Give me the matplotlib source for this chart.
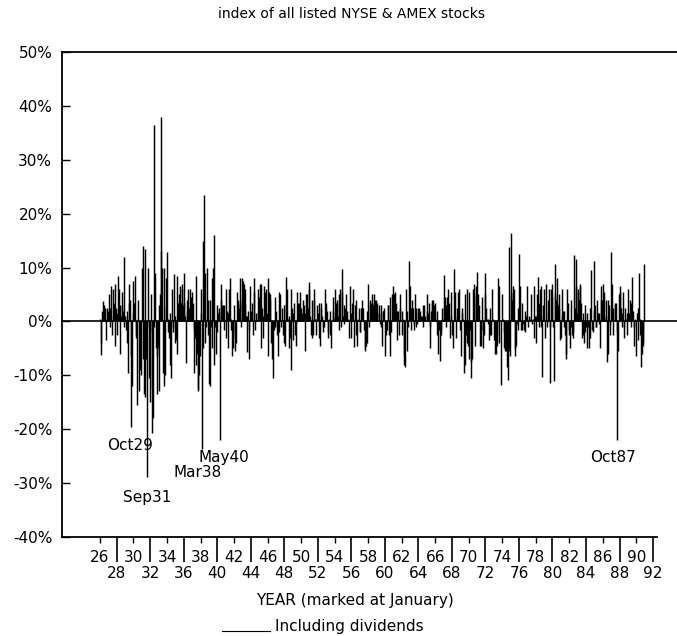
import matplotlib
matplotlib.use("Agg")
import matplotlib.pyplot as plt
from matplotlib.lines import Line2D
import numpy as np

# %% Data: monthly returns (%), Jan 1926 - Dec 1990

ret_1920s = [
    0.5, -4.0, -6.3, 2.0, 1.0, 3.8, 3.0, 2.5, 0.5, -3.5, 2.5, 2.0,
    1.0, 5.0, -1.0, 2.5, 6.5, -2.5, 6.0, 1.0, 3.5, -4.5, 7.0, 2.5,
    1.5, -2.5, 8.5, 6.0, 3.0, -6.0, 1.0, 5.5, 3.0, 2.0, 12.0, -1.0,
    1.0, -1.5, -4.0, 2.0, -9.5, 7.0, 3.5, 4.0, -6.5, -19.6, -12.0, 1.5,
]

ret_1930s = [
    7.5, 3.5, 8.5, -3.0, -2.5, -15.5, 4.0, 0.5, -13.0, -9.0, -2.0, -10.0,
    10.0, 14.0, -7.0, -13.5, -14.0, 13.5, -7.0, -1.0, -28.8, 10.0, -10.5, -15.0,
    -2.0, 5.0, -12.5, -20.7, -18.0, -1.0, 36.5, 9.0, -5.0, -13.5, -6.5, -5.0,
    3.0, -13.0, 5.0, 38.0, 13.0, 10.0, -9.5, 10.0, -12.0, -10.0, 8.0, 2.5,
    12.8, -2.0, 0.5, -3.0, -8.0, 1.5, -10.5, 6.0, -1.0, -2.0, 8.8, 1.0,
    -4.0, -3.5, -6.0, 8.5, 3.5, 5.0, 6.5, 3.0, 3.5, 7.0, 6.0, 3.0,
    9.0, 3.5, 1.0, -7.7, 4.0, 2.0, 6.0, 1.0, 2.5, 6.0, 4.5, 1.0,
    5.5, 3.5, -1.5, -9.5, -3.0, -8.0, 8.5, -6.0, -13.0, -12.5, -10.0, -6.5,
    1.5, 6.0, -23.6, 15.0, -5.0, 23.5, 9.0, -4.0, -1.0, 10.0, -2.5, 4.0,
    -11.7, 4.0, -12.0, -1.0, 8.0, -5.0, 10.0, -8.0, 16.0, -1.0, -6.0, 3.0,
]

ret_1940s = [
    -2.0, 1.5, 2.5, 2.0, -22.0, 7.0, 4.0, 3.0, 3.0, 3.0, -1.5, 0.0,
    6.0, -3.0, 2.0, -5.0, 1.5, 6.0, 8.0, 0.5, -1.5, -6.5, -3.0, -5.0,
    3.0, -2.0, -5.5, -4.0, 5.5, 3.0, 4.0, 2.5, 3.5, 8.0, -1.0, 4.0,
    8.0, 7.5, 7.0, 3.0, 6.0, 1.0, -5.7, 1.0, 2.0, -1.5, -7.0, 6.5,
    2.0, 0.5, 3.5, -2.5, 5.5, 8.0, -1.5, 1.5, 0.0, 0.0, 1.5, 6.0,
    4.5, 7.0, -5.0, 7.0, 2.5, 1.0, -3.0, 6.5, 5.5, 4.5, 6.0, 1.5,
    8.0, -6.5, 5.5, 4.0, 5.0, -4.0, -3.0, -7.0, -10.5, -1.5, -1.0, 4.5,
    2.0, -1.0, -2.5, -6.5, -2.0, 5.5, 5.0, -1.0, 0.5, 2.5, -2.5, 3.0,
    -4.0, -4.5, 8.3, 3.5, 6.0, 0.5, -5.0, 1.0, -3.0, 6.0, -9.0, 2.5,
    1.5, -3.5, 3.5, -2.5, -4.5, -0.5, 5.5, 2.5, 3.5, 3.5, 2.0, 5.5,
]

ret_1950s = [
    2.5, 1.5, 0.5, 4.0, 3.0, -5.5, 1.5, 5.0, 5.0, 0.0, 2.5, 6.0,
    7.3, 1.0, -2.5, 4.0, -3.0, -2.5, 6.0, 4.0, 0.5, -2.5, 0.5, 3.0,
    1.5, -3.0, 3.5, -4.5, 2.5, 3.5, 1.0, -1.0, -2.0, -1.0, 6.0, 3.5,
    0.5, 2.0, -2.0, -3.0, 0.5, -2.5, 2.0, -5.0, 0.0, 4.5, 2.0, 0.5,
    6.0, 1.0, 3.5, 4.0, 3.5, 1.0, 5.0, -1.5, 6.0, -1.0, 9.8, 5.5,
    1.0, 3.0, -0.5, 2.5, 1.0, 5.0, 2.0, 0.5, 0.0, -3.0, 6.5, 1.5,
    -3.0, 3.5, 6.0, 0.5, -4.8, 3.0, 4.0, -2.5, -4.5, 0.5, 0.0, 2.5,
    -2.0, -2.0, 2.5, 4.0, 2.5, 0.5, -1.5, -5.0, -5.4, -4.5, 2.0, -4.0,
    7.0, -1.0, 4.0, 3.0, 3.5, 3.5, 5.0, 3.0, 5.0, 3.5, 4.0, 4.0,
    3.5, 1.5, 0.0, 3.0, 1.5, -0.5, 3.0, -1.0, -4.5, 2.0, 2.0, 2.5,
]

ret_1960s = [
    -6.5, 0.0, -2.5, -1.5, 3.0, 3.0, -2.5, 4.5, -6.5, -2.0, 5.0, 4.0,
    6.5, 5.0, 5.5, 1.5, 3.5, -3.5, 2.0, 2.0, -2.5, 2.5, 5.0, 0.0,
    -2.5, 2.0, 0.5, -6.5, -8.1, -8.5, 6.0, 2.0, -5.5, -1.0, 11.3, 0.5,
    6.5, -1.5, 2.5, 4.0, 2.5, -1.5, -0.5, 5.0, -1.0, 2.5, -0.5, 1.5,
    2.5, 2.5, 2.0, 0.5, 1.0, 1.0, 3.0, -1.0, 3.0, 1.0, 0.0, 0.0,
    5.0, 2.0, 1.5, 3.5, -1.0, -5.0, 2.0, 4.0, 3.5, 4.0, 2.0, 3.0,
    3.5, 0.5, -2.5, 2.0, -6.0, -1.0, -1.5, -7.3, -1.5, -2.5, 2.5, 0.5,
    8.7, 2.5, 4.5, 3.0, -1.0, 4.5, 6.0, 0.5, 3.5, -3.0, 1.0, 5.5,
    -2.5, -5.0, 0.0, 9.8, 5.5, 1.0, -3.0, 2.5, 5.5, 1.5, 6.0, 0.0,
    -1.5, -6.5, 1.5, 2.5, 0.5, -9.5, -8.0, 5.0, -2.5, 6.0, -4.0, -4.5,
]

ret_1970s = [
    -7.0, 5.5, -1.5, -10.5, -7.5, -7.0, 6.0, 5.0, 7.0, -4.5, 3.5, 6.5,
    9.1, 2.0, 5.0, 3.0, -4.5, -1.5, -4.5, 4.5, -1.5, -5.0, -2.5, 9.0,
    5.0, 2.5, 0.5, 0.5, -0.5, -3.5, -2.5, 2.5, -2.5, 0.0, 6.0, 0.5,
    -3.5, -6.0, -2.5, -6.0, -4.5, -2.5, 8.0, -4.0, 6.5, 0.0, -11.8, 0.5,
    5.0, 0.5, -2.0, -5.0, -5.5, -2.0, -5.5, -8.5, -10.9, 13.8, -5.5, -6.5,
    16.4, 5.5, 4.0, 5.0, 6.5, 6.0, -5.0, -6.4, -4.5, -0.5, 2.5, -1.5,
    12.5, 6.5, 0.5, -1.5, -1.5, 3.5, -0.5, -1.5, 2.0, -2.0, 1.0, 6.5,
    0.5, -1.0, 0.0, 1.0, 0.5, 5.0, 0.0, -0.5, 0.5, -3.0, 6.5, 1.0,
    -4.0, 1.0, 5.0, 8.2, 3.5, -1.0, 6.0, 6.5, -1.0, -10.3, 3.0, 1.0,
    6.0, -3.0, 7.0, 0.5, -1.0, 4.0, 1.5, 6.0, -1.0, -11.4, 6.0, 4.5,
]

ret_1980s = [
    7.0, -1.0, -11.0, 5.0, 10.7, 4.0, 8.0, 3.5, 3.0, 2.5, 5.0, -3.5,
    -3.0, 1.0, 6.0, 2.0, 2.0, -1.0, -2.5, -6.0, -7.0, 6.0, 3.5, -1.5,
    -2.5, -5.0, -1.0, 4.0, -2.5, -3.0, -2.0, 12.3, 2.5, 11.5, 6.5, 1.5,
    6.0, 5.5, 4.0, 7.0, 6.5, 3.5, -3.0, -2.5, 1.5, -4.0, 3.0, -2.0,
    -1.0, -5.0, 1.5, -1.0, -5.0, 2.5, -3.0, 9.5, 0.0, -1.5, -2.0, 2.0,
    11.3, 3.0, -1.0, -1.0, 4.0, 1.5, 1.5, -0.5, -5.0, 4.0, 6.5, 4.0,
    1.5, 7.0, 5.5, 0.5, 4.0, 1.0, -7.5, 4.0, -6.0, 3.0, -0.5, -2.5,
    12.8, 7.0, 2.5, -2.5, 0.0, 3.0, 3.5, 3.5, -2.0, -22.0, -5.5, 5.0,
    6.5, 5.5, 2.5, 1.5, -1.0, 5.5, -1.0, -3.0, 2.5, 0.5, -2.5, 1.5,
    6.0, 0.5, 1.5, 4.0, 3.5, -1.0, 8.2, 2.0, -1.0, -4.5, 0.5, 0.0,
]

ret_1990 = [-6.5, 1.5, 2.5, -3.5, 9.0, 0.5, -2.5, -8.5, -6.0, -4.5, -3.8, 10.6]

FIRST_YEAR = 1926

# tick years: long ticks (label in lower row) and short ticks (label in upper row)
long_years = list(range(1928, 1993, 4))
short_years = list(range(1926, 1991, 4))

yticks = list(range(-40, 51, 10))

events = [
    ("Oct29", 1929.58, -23.1),
    ("Sep31", 1931.61, -32.6),
    ("Mar38", 1937.69, -28.1),
    ("May40", 1940.80, -25.2),
    ("Oct87", 1987.22, -25.2),
]

# %% Plot

returns = np.array(
    ret_1920s + ret_1930s + ret_1940s + ret_1950s + ret_1960s
    + ret_1970s + ret_1980s + ret_1990
)
months = FIRST_YEAR + np.arange(len(returns)) / 12

W, H = 677, 636
fig = plt.figure(figsize=(W / 100, H / 100), dpi=100)
ax = fig.add_axes([62 / W, 1 - 537 / H, (657 - 62) / W, (537 - 52) / H])

ax.vlines(months, 0, returns, color="black", lw=1.05)

ax.set_xlim(1921.47, 1992.47)
ax.set_ylim(-40, 50)

# zero line and top frame run past the plot to the page edge
ax.plot([0, 1.034], [0, 0], color="black", lw=1.2,
        transform=ax.get_yaxis_transform(), clip_on=False)
ax.add_line(Line2D([0, 1.034], [1, 1], color="black", lw=1.3,
                   transform=ax.transAxes, clip_on=False))

ax.spines[["top", "right"]].set_visible(False)
ax.spines[["left", "bottom"]].set_linewidth(1.3)

ax.set_yticks(yticks, labels=[f"{v}%" for v in yticks])
ax.tick_params(axis="y", direction="in", length=6, width=1, pad=7,
               labelsize=11)

ax.set_xticks(long_years, labels=[str(y % 100) for y in long_years])
ax.set_xticks(short_years, labels=[str(y % 100) for y in short_years],
              minor=True)
ax.tick_params(axis="x", which="major", direction="out", length=18,
               width=1.2, pad=3, labelsize=11)
ax.tick_params(axis="x", which="minor", direction="out", length=4,
               width=1, pad=5, labelsize=11)

for name, x, y in events:
    ax.text(x, y, name, ha="center", va="center", fontsize=11)

fig.text(352 / W, 1 - 14 / H, "index of all listed NYSE & AMEX stocks",
         ha="center", va="center", fontsize=10)
fig.text(355 / W, 1 - 600 / H, "YEAR (marked at January)",
         ha="center", va="center", fontsize=11)
fig.add_artist(Line2D([222 / W, 270 / W], [1 - 631 / H, 1 - 631 / H],
                      color="black", lw=0.8))
fig.text(275 / W, 1 - 627 / H, "Including dividends",
         ha="left", va="center", fontsize=11)

fig.savefig("out.png", dpi=100)
